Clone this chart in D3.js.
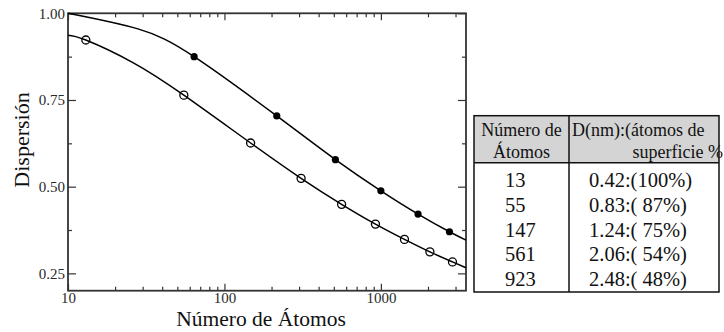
<!DOCTYPE html>
<html>
<head>
<meta charset="utf-8">
<script src="https://cdn.jsdelivr.net/npm/d3@7"></script>
<style>
  html, body { margin: 0; padding: 0; background: #fff; }
  svg { display: block; }
  text { font-family: "Liberation Serif", "Times New Roman", serif; fill: #111; }
  .pre { white-space: pre; }
</style>
</head>
<body>
<svg id="chart" width="724" height="332"></svg>
<script>
// Cubic clusters (filled markers)
const cubicAtoms = [64, 216, 512, 1000, 1728, 2744];
const cubicDispersion = [0.875, 0.704, 0.578, 0.488, 0.421, 0.370];
// Icosahedral clusters (open markers)
const icoAtoms = [13, 55, 147, 309, 561, 923, 1415, 2057, 2869];
const icoDispersion = [0.923, 0.764, 0.626, 0.524, 0.449, 0.392, 0.348, 0.312, 0.283];
// Fitted trend lines across the whole axis
const cubicFitAtoms = [10, 28, 64, 216, 512, 1000, 1728, 2744, 3500];
const cubicFitDispersion = [1.0, 0.955, 0.875, 0.704, 0.578, 0.488, 0.421, 0.370, 0.346];
const icoFitAtoms = [10, 13, 26, 55, 147, 309, 561, 923, 1415, 2057, 2869, 3500];
const icoFitDispersion = [0.937, 0.923, 0.858, 0.764, 0.626, 0.524, 0.449, 0.392, 0.348, 0.312, 0.283, 0.266];
// Axis ticks
const xMajorTicks = [10, 100, 1000];
const xMinorTicks = [20, 30, 40, 50, 60, 70, 80, 90, 200, 300, 400, 500, 600, 700, 800, 900, 2000, 3000];
const yMajorTicks = [0.25, 0.50, 0.75, 1.00];
const yMinorTicks = [0.375, 0.625, 0.875];
// Table contents
const tableHeader1 = ["Número de", "Átomos"];
const tableHeader2 = ["D(nm):(átomos de", "superficie %"];
const tableAtoms = ["13", "55", "147", "561", "923"];
const tableDiameter = ["0.42", "0.83", "1.24", "2.06", "2.48"];
const tableSurface = ["100%", " 87%", " 75%", " 54%", " 48%"];

const svg = d3.select("#chart");
const plot = { left: 68, right: 466, top: 13.3, bottom: 290.7 };

const x = d3.scaleLog().domain([10, 3500]).range([plot.left, plot.right]);
const y = d3.scaleLinear().domain([0.2, 1.0]).range([plot.bottom, plot.top]);

const axisColor = "#333";

function styleAxis(g) {
  g.select(".domain").remove();
  g.selectAll(".tick line").attr("stroke", axisColor).attr("stroke-width", 1.2);
  g.selectAll(".tick text")
    .style("font-family", "'Liberation Serif', serif")
    .style("font-size", "15px")
    .style("fill", "#2a2a2a");
}

// bottom axis
svg.append("g").attr("transform", `translate(0,${plot.bottom})`)
  .call(d3.axisBottom(x).tickValues(xMajorTicks).tickSize(-7).tickPadding(2).tickFormat(d3.format("d")))
  .call(styleAxis);
svg.append("g").attr("transform", `translate(0,${plot.bottom})`)
  .call(d3.axisBottom(x).tickValues(xMinorTicks).tickSize(-4).tickFormat(""))
  .call(styleAxis);
// top axis
svg.append("g").attr("transform", `translate(0,${plot.top})`)
  .call(d3.axisTop(x).tickValues(xMajorTicks).tickSize(-7).tickFormat(""))
  .call(styleAxis);
svg.append("g").attr("transform", `translate(0,${plot.top})`)
  .call(d3.axisTop(x).tickValues(xMinorTicks).tickSize(-4).tickFormat(""))
  .call(styleAxis);
// left axis
svg.append("g").attr("transform", `translate(${plot.left},0)`)
  .call(d3.axisLeft(y).tickValues(yMajorTicks).tickSize(-8).tickPadding(3).tickFormat(d3.format(".2f")))
  .call(styleAxis);
svg.append("g").attr("transform", `translate(${plot.left},0)`)
  .call(d3.axisLeft(y).tickValues(yMinorTicks).tickSize(-4).tickFormat(""))
  .call(styleAxis);
// right axis
svg.append("g").attr("transform", `translate(${plot.right},0)`)
  .call(d3.axisRight(y).tickValues(yMajorTicks).tickSize(-8).tickFormat(""))
  .call(styleAxis);
svg.append("g").attr("transform", `translate(${plot.right},0)`)
  .call(d3.axisRight(y).tickValues(yMinorTicks).tickSize(-4).tickFormat(""))
  .call(styleAxis);

// frame
svg.append("rect")
  .attr("x", plot.left).attr("y", plot.top)
  .attr("width", plot.right - plot.left).attr("height", plot.bottom - plot.top)
  .attr("fill", "none").attr("stroke", axisColor).attr("stroke-width", 1.8);

// fitted lines
const line = d3.line().x(d => x(d[0])).y(d => y(d[1])).curve(d3.curveNatural);
svg.append("path")
  .datum(d3.zip(cubicFitAtoms, cubicFitDispersion))
  .attr("d", line).attr("fill", "none").attr("stroke", "#000").attr("stroke-width", 1.5);
svg.append("path")
  .datum(d3.zip(icoFitAtoms, icoFitDispersion))
  .attr("d", line).attr("fill", "none").attr("stroke", "#000").attr("stroke-width", 1.5);

// markers
svg.append("g").selectAll("circle")
  .data(d3.zip(cubicAtoms, cubicDispersion))
  .join("circle")
  .attr("cx", d => x(d[0])).attr("cy", d => y(d[1])).attr("r", 3.6)
  .attr("fill", "#000");
svg.append("g").selectAll("circle")
  .data(d3.zip(icoAtoms, icoDispersion))
  .join("circle")
  .attr("cx", d => x(d[0])).attr("cy", d => y(d[1])).attr("r", 4)
  .attr("fill", "none").attr("stroke", "#000").attr("stroke-width", 1.3);

// axis titles
svg.append("text")
  .attr("x", 261).attr("y", 326)
  .attr("text-anchor", "middle")
  .style("font-size", "21.5px")
  .text("Número de Átomos");
svg.append("text")
  .attr("transform", "translate(29,140) rotate(-90)")
  .attr("text-anchor", "middle")
  .style("font-size", "22px")
  .text("Dispersión");

// table
const tb = { left: 474, right: 719, top: 115.7, headerBottom: 162.7, bottom: 292, divider: 569 };
const table = svg.append("g");
table.append("rect")
  .attr("x", tb.left).attr("y", tb.top)
  .attr("width", tb.right - tb.left).attr("height", tb.headerBottom - tb.top)
  .attr("fill", "#d4d4d4");
table.append("rect")
  .attr("x", tb.left).attr("y", tb.top)
  .attr("width", tb.right - tb.left).attr("height", tb.bottom - tb.top)
  .attr("fill", "none").attr("stroke", "#111").attr("stroke-width", 1.5);
table.append("line")
  .attr("x1", tb.left).attr("x2", tb.right)
  .attr("y1", tb.headerBottom).attr("y2", tb.headerBottom)
  .attr("stroke", "#111").attr("stroke-width", 1.5);
table.append("line")
  .attr("x1", tb.divider).attr("x2", tb.divider)
  .attr("y1", tb.top).attr("y2", tb.bottom)
  .attr("stroke", "#111").attr("stroke-width", 1.5);

const headerBaselines = [136, 158];
table.selectAll("text.h1").data(tableHeader1).join("text")
  .attr("class", "h1")
  .attr("x", (tb.left + tb.divider) / 2).attr("y", (d, i) => headerBaselines[i])
  .attr("text-anchor", "middle").style("font-size", "18px")
  .text(d => d);
table.append("text")
  .attr("x", 572).attr("y", headerBaselines[0])
  .style("font-size", "18px").text(tableHeader2[0]);
table.append("text")
  .attr("x", 723).attr("y", headerBaselines[1])
  .attr("text-anchor", "end").style("font-size", "18px").text(tableHeader2[1]);

const rowY = i => 187 + i * 24.75;
table.selectAll("text.atoms").data(tableAtoms).join("text")
  .attr("class", "atoms")
  .attr("x", 505).attr("y", (d, i) => rowY(i))
  .style("font-size", "20.5px")
  .text(d => d);
table.selectAll("text.diam").data(tableDiameter).join("text")
  .attr("class", "diam pre")
  .attr("x", 589).attr("y", (d, i) => rowY(i))
  .style("font-size", "20.5px")
  .text((d, i) => `${d}:(${tableSurface[i]})`);
</script>
</body>
</html>
